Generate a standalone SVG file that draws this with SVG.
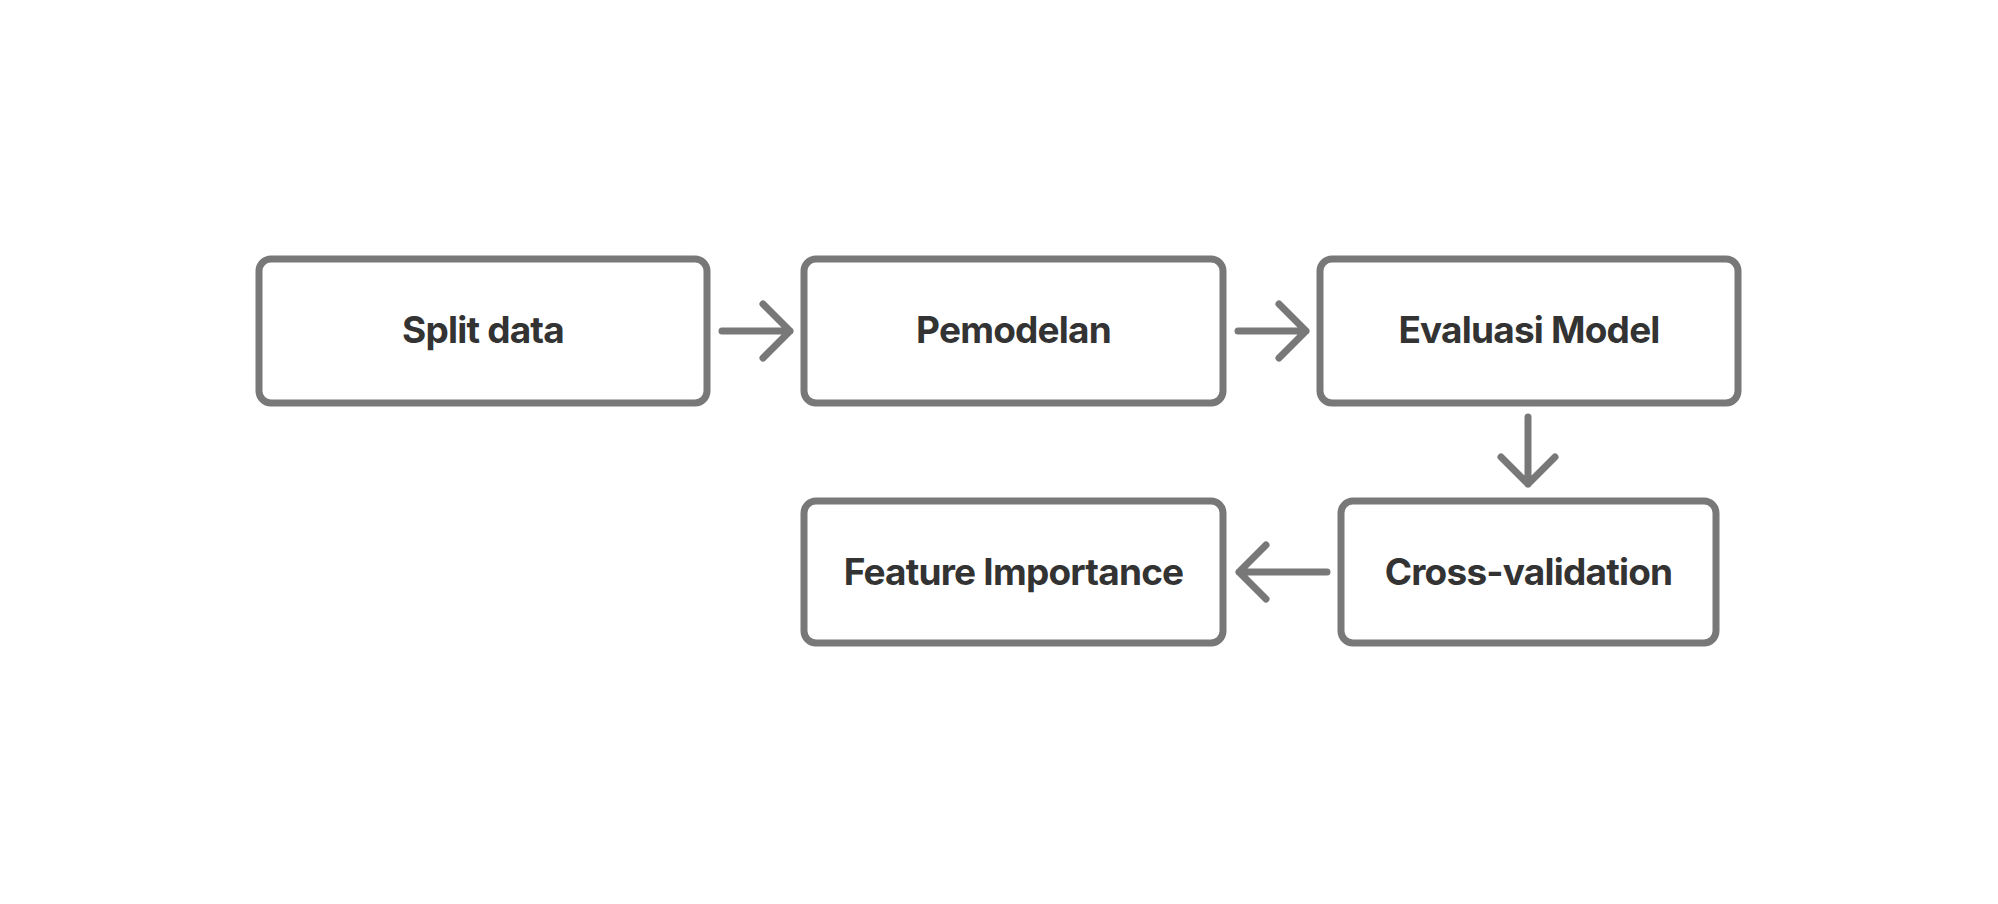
<svg xmlns="http://www.w3.org/2000/svg" width="1998" height="904" viewBox="0 0 1998 904">
<style>
.box{fill:#ffffff;stroke:#787878;stroke-width:7}
.lbl{font-family:Inter,"Noto Sans","Liberation Sans",sans-serif;font-weight:700;font-size:37px;letter-spacing:-0.8px;fill:#333333;text-anchor:middle}
.con{fill:none;stroke:#787878;stroke-width:7;stroke-linecap:round;stroke-linejoin:round}
</style>
<rect width="1998" height="904" fill="#ffffff"/>
<g id="split"><rect class="box" x="259" y="259" width="448" height="144" rx="12"/><text class="lbl" x="483" y="343">Split data</text></g>
<g id="pemodelan"><rect class="box" x="804" y="259" width="419" height="144" rx="12"/><text class="lbl" x="1013.5" y="343">Pemodelan</text></g>
<g id="evaluasi"><rect class="box" x="1320" y="259" width="418" height="144" rx="12"/><text class="lbl" x="1529" y="343">Evaluasi Model</text></g>
<g id="feature"><rect class="box" x="804" y="501" width="419" height="142" rx="12"/><text class="lbl" x="1013.5" y="584.5">Feature Importance</text></g>
<g id="cv"><rect class="box" x="1341" y="501" width="375" height="142" rx="12"/><text class="lbl" x="1528.5" y="584.5">Cross-validation</text></g>
<g id="connectors">
<path class="con" d="M722 331H790M763 304L790 331L763 358"/>
<path class="con" d="M1238 331H1306M1279 304L1306 331L1279 358"/>
<path class="con" d="M1528 417V484M1501 457L1528 484L1555 457"/>
<path class="con" d="M1327 572H1239M1266 545L1239 572L1266 599"/>
</g>
</svg>
